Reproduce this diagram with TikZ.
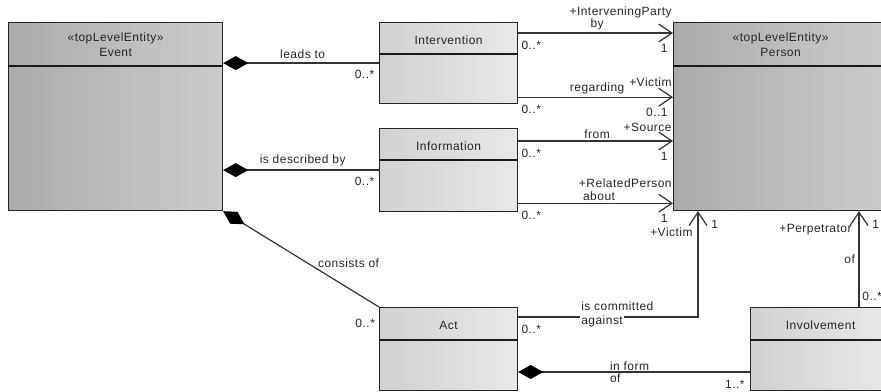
\documentclass[tikz,border=0pt]{standalone}
\usepackage{fontspec}
\setmainfont{Liberation Sans}[LetterSpace=4]
\usetikzlibrary{arrows.meta, positioning, calc}

\tikzset{
  bigclass/.style={draw=black!85, line width=0.9pt, anchor=north west, inner sep=0pt,
    left color=black!33, middle color=black!22, right color=black!20},
  smallclass/.style={draw=black!85, line width=0.9pt, anchor=north west, inner sep=0pt,
    left color=black!18, middle color=black!4, right color=black!9},
  divider/.style={draw=black!90, line width=0.9pt},
  title/.style={font=\fontsize{9}{11}\selectfont, text=black!85, align=center, inner sep=0pt},
  lbl/.style={font=\fontsize{9}{10}\selectfont, text=black!85, inner sep=0.6pt},
  assoc/.style={draw=black!80, line width=0.9pt,
    -{Straight Barb[length=10pt,width=13.5pt,line width=0.9pt]}},
  comp/.style={draw=black!80, line width=0.9pt,
    {Diamond[length=18.75pt,width=10.5pt,fill=black,color=black]}-},
}

\begin{document}
\begin{tikzpicture}[x=0.75pt, y=-0.75pt]
\useasboundingbox (0,0) rectangle (881,392);
\clip (0,0) rectangle (881,392);

% top level entities
\foreach \nm/\x/\y/\txt in {
  event/8/22/{«topLevelEntity»\\Event},
  person/673/22/{«topLevelEntity»\\Person}}
{
  \node[bigclass, minimum width=214*0.75pt, minimum height=188*0.75pt] (\nm) at (\x,\y) {};
  \draw[divider] ([yshift=-33pt]\nm.north west) -- ([yshift=-33pt]\nm.north east);
  \node[title] (\nm-name) at ($(\nm.north)+(0,22.5)$) {\txt};
}

% other classes
\foreach \nm/\x/\y/\w/\h/\hd/\txt in {
  interv/379/22/138/81/32/Intervention,
  info/379/128/138/83/32/Information,
  act/379/307/138/83/33/Act,
  invol/750/307/140/83/33/Involvement}
{
  \node[smallclass, minimum width=\w*0.75pt, minimum height=\h*0.75pt] (\nm) at (\x,\y) {};
  \draw[divider] ([yshift=-\hd*0.75pt]\nm.north west) -- ([yshift=-\hd*0.75pt]\nm.north east);
  \node[title] (\nm-name) at ($(\nm.north)+(0,\hd/2+2)$) {\txt};
}

% compositions of Event
\draw[comp] (event.east |- interv.west) -- node[lbl, above=2pt, pos=0.51]{leads to}
  (interv.west) node[lbl, anchor=north east, xshift=-2.5pt, yshift=-4pt]{0..*};
\draw[comp] (event.east |- info.west) -- node[lbl, above=2pt, pos=0.51]{is described by}
  (info.west) node[lbl, anchor=north east, xshift=-2.5pt, yshift=-4pt]{0..*};
\draw[comp] (event.south east) -- node[lbl, pos=0.6, anchor=south west]{consists of}
  (act.north west) node[lbl, anchor=north east, xshift=-2pt, yshift=-8pt]{0..*};

% associations to Person
\coordinate (ib) at ([yshift=-8.25pt]interv.north east);
\coordinate (ir) at ([yshift=5.25pt]interv.south east);
\coordinate (if) at ([yshift=-9.75pt]info.north east);
\coordinate (ia) at ([yshift=6.75pt]info.south east);

\draw[assoc] (ib) node[lbl, anchor=north west, xshift=1.5pt, yshift=-5pt]{0..*}
  -- node[lbl, above=1pt, pos=0.51]{by} (ib -| person.west)
  node[lbl, anchor=north east, xshift=-3pt, yshift=-7.5pt]{1}
  node[lbl, anchor=south east, yshift=10pt]{+InterveningParty};
\draw[assoc] (ir) node[lbl, anchor=north west, xshift=1.5pt, yshift=-5pt]{0..*}
  -- node[lbl, above=1pt, pos=0.51]{regarding} (ir -| person.west)
  node[lbl, anchor=north east, xshift=-3pt, yshift=-7.5pt]{0..1}
  node[lbl, anchor=south east, yshift=7pt]{+Victim};
\draw[assoc] (if) node[lbl, anchor=north west, xshift=1.5pt, yshift=-5pt]{0..*}
  -- node[lbl, above=1pt, pos=0.51]{from} (if -| person.west)
  node[lbl, anchor=north east, xshift=-3pt, yshift=-7.5pt]{1}
  node[lbl, anchor=south east, yshift=6pt]{+Source};
\draw[assoc] (ia) node[lbl, anchor=north west, xshift=1.5pt, yshift=-5pt]{0..*}
  -- node[lbl, anchor=south west, yshift=1pt, pos=0.41]{about} (ia -| person.west)
  node[lbl, anchor=north east, xshift=-3pt, yshift=-7.5pt]{1}
  node[lbl, fill=white, anchor=south east, yshift=11pt]{+RelatedPerson};

% Act and Involvement
\coordinate (ac) at ([yshift=-7.5pt]act.north east);
\coordinate (pv) at ([xshift=18.75pt]person.south west);
\draw[assoc] (ac) node[lbl, anchor=north west, xshift=1.5pt, yshift=-5pt]{0..*}
  -| (pv) node[lbl, anchor=north east, xshift=-3pt, yshift=-11.5pt]{+Victim}
  node[lbl, anchor=north west, xshift=9pt, yshift=-6pt]{1};
\node[lbl, anchor=west] (committed) at ($(ac)+(62,-11)$) {is committed};
\node[lbl, anchor=west, fill=white] (against) at ($(ac)+(62,4)$) {against};

\coordinate (ip) at ([xshift=81.75pt]invol.north west);
\draw[assoc] (ip) node[lbl, anchor=south west, xshift=1.5pt, yshift=4pt]{0..*}
  -- node[lbl, left=2pt, pos=0.5]{of} (ip |- person.south)
  node[lbl, anchor=north east, xshift=-4.5pt, yshift=-9pt]{+Perpetrator}
  node[lbl, anchor=north west, xshift=9pt, yshift=-6pt]{1};

\coordinate (af) at ([yshift=-48.75pt]act.north east);
\draw[comp] (af) -- node[lbl, pos=0.39, anchor=south west]{in form}
  node[lbl, pos=0.39, anchor=north west]{of}
  (af -| invol.west) node[lbl, anchor=north east, xshift=-3pt, yshift=-5pt]{1..*};
\end{tikzpicture}
\end{document}
